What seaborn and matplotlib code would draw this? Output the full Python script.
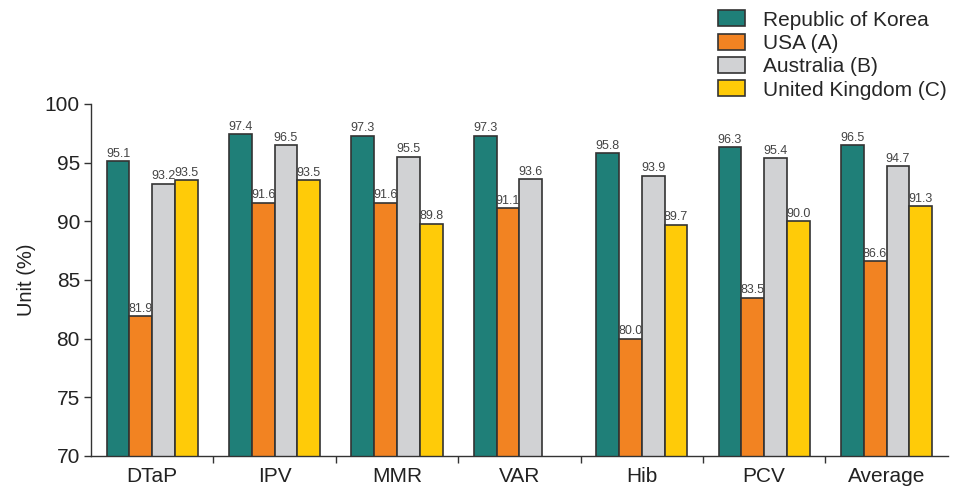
import pandas as pd
import matplotlib.pyplot as plt
import seaborn as sns
import numpy as np

sns.set_theme(style="white")
plt.rcParams['font.family'] = ['Liberation Sans', 'DejaVu Sans']

# Data
vaccines = ['DTaP', 'IPV', 'MMR', 'VAR', 'Hib', 'PCV', 'Average']
countries = ['Republic of Korea', 'USA (A)', 'Australia (B)', 'United Kingdom (C)']
korea = [95.1, 97.4, 97.3, 97.3, 95.8, 96.3, 96.5]
usa = [81.9, 91.6, 91.6, 91.1, 80.0, 83.5, 86.6]
australia = [93.2, 96.5, 95.5, 93.6, 93.9, 95.4, 94.7]
uk = [93.5, 93.5, 89.8, np.nan, 89.7, 90.0, 91.3]
colors = ['#1f7f78', '#f28322', '#d1d2d4', '#ffcb08']

df = pd.DataFrame({'Vaccine': vaccines * 4,
                   'Country': np.repeat(countries, len(vaccines)),
                   'Value': korea + usa + australia + uk})

fig = plt.figure(figsize=(9.54, 4.95), dpi=100)
ax = fig.add_axes([0.0954, 0.0788, 0.898, 0.7112])

sns.barplot(data=df, x='Vaccine', y='Value', hue='Country', palette=colors, saturation=1,
            width=0.745, edgecolor='#333333', linewidth=1.2, ax=ax, legend=True)

for cont in ax.containers:
    ax.bar_label(cont, fmt='%.1f', fontsize=9, color='#444444', padding=1)

ax.set_ylim(70, 100)
ax.set_xlim(-0.5, 6.5)
ax.set_yticks(np.arange(70, 101, 5))
ax.set_xlabel('')
ax.set_ylabel('Unit (%)', fontsize=14.5, color='#222222', labelpad=6)

ax.set_xticks(np.arange(0.5, 6, 1), minor=True)
ax.tick_params(axis='x', which='major', length=0, labelsize=15, pad=8, colors='#222222')
ax.tick_params(axis='x', which='minor', length=5, width=1, color='#333333', direction='out', bottom=True)
ax.tick_params(axis='y', length=5, width=1, color='#333333', direction='out', left=True,
               labelsize=15, labelcolor='#222222', pad=3)

for s in ['top', 'right']:
    ax.spines[s].set_visible(False)
for s in ['left', 'bottom']:
    ax.spines[s].set_color('#333333')
    ax.spines[s].set_linewidth(1)

ax.legend(loc='upper left', bbox_to_anchor=(0.744, 0.996), bbox_transform=fig.transFigure,
          frameon=False, fontsize=15, handlelength=1.3, handleheight=0.8,
          labelspacing=0.2, handletextpad=0.85, borderaxespad=0)

plt.savefig('out.png', dpi=100)
